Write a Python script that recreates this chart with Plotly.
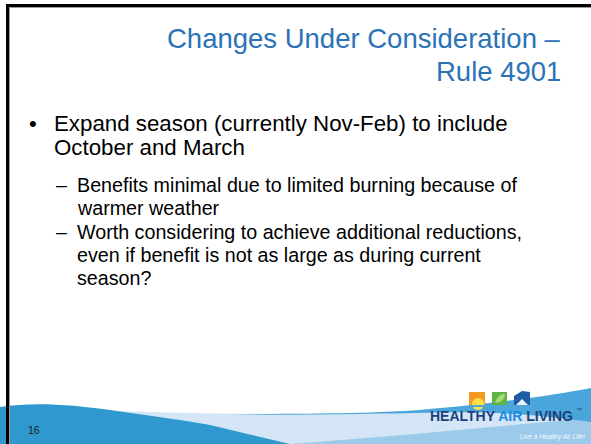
import plotly.graph_objects as go

# ---- slide content ----
title_lines = ["Changes Under Consideration –", "Rule 4901"]
title_y = [38, 71]

main_bullet_lines = ["Expand season (currently Nov-Feb) to include", "October and March"]
main_bullet_y = [123, 147]

sub_bullets = [
    ["Benefits minimal due to limited burning because of", "warmer weather"],
    ["Worth considering to achieve additional reductions,",
     "even if benefit is not as large as during current", "season?"],
]
sub_bullet_y = [[185, 208], [232, 255, 278]]

page_number = "16"
logo_words = ["HEALTHY", "AIR", "LIVING"]
logo_tm = "™"
tagline = "Live a Healthy Air Life!"

FONT = "Liberation Sans, Arial, sans-serif"
TITLE_COLOR = "#2B72B6"

fig = go.Figure()
fig.add_trace(go.Scatter(x=[0], y=[0], mode="markers", marker=dict(opacity=0), hoverinfo="skip", showlegend=False))

shapes = []
# wave decoration (bottom band)
shapes.append(dict(type="path", xref="x", yref="y", layer="below",
                   path="M 120 411 C 200 414, 330 416, 420 410 C 490 404, 550 396, 591 388 L 591 444 L 120 444 Z",
                   fillcolor="#D4E6F5", line=dict(width=0)))
shapes.append(dict(type="path", xref="x", yref="y", layer="below",
                   path="M 290 444 C 390 437, 500 426, 591 418 L 591 444 Z",
                   fillcolor="#9CCAEB", line=dict(width=0)))
shapes.append(dict(type="path", xref="x", yref="y", layer="below",
                   path="M 230 414 C 320 414, 380 413, 420 410 C 490 404, 550 396, 591 388 L 591 422 C 560 418, 520 413, 470 412 C 400 413, 300 416, 230 414 Z",
                   fillcolor="#4AA6DA", line=dict(width=0)))
shapes.append(dict(type="path", xref="x", yref="y", layer="below",
                   path="M 0 407 C 30 402, 70 404, 110 410 C 150 416, 190 421, 210 425 L 290 444 L 0 444 Z",
                   fillcolor="#2F99CF", line=dict(width=0)))
# logo icons
shapes.append(dict(type="rect", xref="x", yref="y", x0=469, x1=485, y0=392, y1=405,
                   fillcolor="#F39A1E", line=dict(width=0)))
shapes.append(dict(type="circle", xref="x", yref="y", x0=472, x1=484, y0=398, y1=410,
                   fillcolor="#FFE04A", line=dict(width=0)))
shapes.append(dict(type="rect", xref="x", yref="y", x0=469, x1=485, y0=405, y1=407,
                   fillcolor="#4AA6DA", line=dict(width=0)))
shapes.append(dict(type="rect", xref="x", yref="y", x0=492, x1=507, y0=392, y1=405,
                   fillcolor="#5DB546", line=dict(width=0)))
shapes.append(dict(type="path", xref="x", yref="y",
                   path="M 495 403 C 497 396, 501 394, 505 394 C 505 399, 501 403, 495 403 Z",
                   fillcolor="#A6DB7A", line=dict(width=0)))
shapes.append(dict(type="path", xref="x", yref="y",
                   path="M 514 396 L 522 391 L 530 392 L 530 405 L 514 405 Z",
                   fillcolor="#1F5CA4", line=dict(width=0)))
shapes.append(dict(type="path", xref="x", yref="y",
                   path="M 516 405 L 522 399 L 528 405 Z",
                   fillcolor="#E8F2FA", line=dict(width=0)))
# slide border (top and left)
shapes.append(dict(type="rect", xref="x", yref="y", x0=6, x1=591, y0=4, y1=7,
                   fillcolor="#000000", line=dict(width=0)))
shapes.append(dict(type="rect", xref="x", yref="y", x0=6, x1=9, y0=4, y1=444,
                   fillcolor="#000000", line=dict(width=0)))
shapes.append(dict(type="line", xref="x", yref="y", x0=9.5, x1=591, y0=7.5, y1=7.5,
                   line=dict(color="#9A9A9A", width=1)))
shapes.append(dict(type="line", xref="x", yref="y", x0=9.5, x1=9.5, y0=7.5, y1=444,
                   line=dict(color="#9A9A9A", width=1)))

ann = []
for txt, y in zip(title_lines, title_y):
    ann.append(dict(x=563, y=y, xref="x", yref="y", text=txt, showarrow=False,
                    xanchor="right", yanchor="middle",
                    font=dict(family=FONT, size=27.5, color=TITLE_COLOR)))

ann.append(dict(x=33, y=main_bullet_y[0], xref="x", yref="y", text="•", showarrow=False,
                xanchor="center", yanchor="middle", font=dict(family=FONT, size=22, color="#000")))
for txt, y in zip(main_bullet_lines, main_bullet_y):
    ann.append(dict(x=52, y=y, xref="x", yref="y", text=txt, showarrow=False,
                    xanchor="left", yanchor="middle", font=dict(family=FONT, size=22.3, color="#000")))

for lines, ys in zip(sub_bullets, sub_bullet_y):
    ann.append(dict(x=61.5, y=ys[0], xref="x", yref="y", text="–", showarrow=False,
                    xanchor="center", yanchor="middle", font=dict(family=FONT, size=19.7, color="#000")))
    for txt, y in zip(lines, ys):
        ann.append(dict(x=75, y=y, xref="x", yref="y", text=txt, showarrow=False,
                        xanchor="left", yanchor="middle", font=dict(family=FONT, size=19.7, color="#000")))

ann.append(dict(x=34, y=430, xref="x", yref="y", text=page_number, showarrow=False,
                xanchor="center", yanchor="middle", font=dict(family=FONT, size=10.5, color="#1A1A1A")))

logo_html = (f"<b><span style='color:#1D3F7C'>{logo_words[0]}</span> "
             f"<span style='color:#1C8BE0'>{logo_words[1]}</span> "
             f"<span style='color:#1D3F7C'>{logo_words[2]}</span></b>")
ann.append(dict(x=501, y=416, xref="x", yref="y", text=logo_html, showarrow=False,
                xanchor="center", yanchor="middle", font=dict(family=FONT, size=14)))
ann.append(dict(x=574, y=410, xref="x", yref="y", text=logo_tm, showarrow=False,
                xanchor="left", yanchor="middle", font=dict(family=FONT, size=6, color="#1D3F7C")))
ann.append(dict(x=587, y=437, xref="x", yref="y", text=f"<i>{tagline}</i>", showarrow=False,
                xanchor="right", yanchor="middle", font=dict(family=FONT, size=6.5, color="#F4FAFF")))

fig.update_layout(
    width=591, height=444,
    margin=dict(l=0, r=0, t=0, b=0),
    paper_bgcolor="white", plot_bgcolor="white",
    xaxis=dict(range=[0, 591], visible=False, fixedrange=True),
    yaxis=dict(range=[444, 0], visible=False, fixedrange=True),
    shapes=shapes, annotations=ann, showlegend=False,
)
fig.write_html("out.html", config={"displayModeBar": False},
               post_script="document.body.style.margin='0';document.body.style.overflow='hidden';")
